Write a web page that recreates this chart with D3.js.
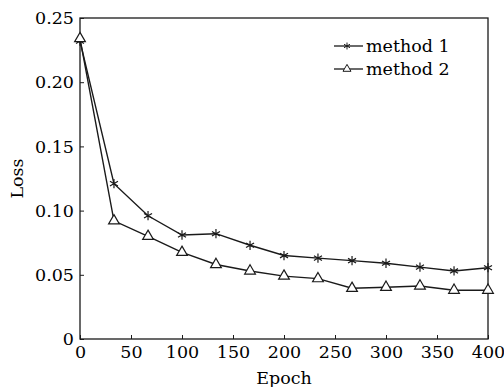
<!DOCTYPE html>
<html lang="en">
<head>
  <meta charset="UTF-8" />
  <title>Loss vs Epoch</title>
  <script src="https://d3js.org/d3.v7.min.js"></script>
  <style>
    body {
      margin: 0;
      background-color: #ffffff;
    }

    .chart-area text {
      font-family: 'DejaVu Serif', serif;
      fill: #000;
    }

    .line-path {
      fill: none;
      stroke: #1a1a1a;
      stroke-width: 1.4;
    }
  </style>
</head>
<body>
  <div id="loss-chart"></div>

  <script>
    const epochs = [0, 33.3, 66.7, 100, 133.3, 166.7, 200, 233.3, 266.7, 300, 333.3, 366.7, 400];
    const method1 = [0.232, 0.121, 0.096, 0.081, 0.082, 0.073, 0.065, 0.063, 0.061, 0.059, 0.056, 0.053, 0.0555];
    const method2 = [0.234, 0.092, 0.080, 0.0675, 0.058, 0.053, 0.049, 0.047, 0.0395, 0.0403, 0.0413, 0.038, 0.038];
    const xTicks = [0, 50, 100, 150, 200, 250, 300, 350, 400];
    const yTicks = [0, 0.05, 0.10, 0.15, 0.20, 0.25];
    const seriesNames = ["method 1", "method 2"];

    const fontSize = 17.5;

    function renderChart() {
      const margin = { top: 18, right: 16, bottom: 48, left: 80 };
      const svgWidth = 504;
      const svgHeight = 387;
      const width = svgWidth - margin.left - margin.right;
      const height = svgHeight - margin.top - margin.bottom;

      const svg = d3.select("#loss-chart")
        .append("svg")
        .attr("width", svgWidth)
        .attr("height", svgHeight)
        .append("g")
        .attr("transform", `translate(${margin.left},${margin.top})`)
        .attr("class", "chart-area");

      const x = d3.scaleLinear().domain([0, 400]).range([0, width]);
      const y = d3.scaleLinear().domain([0, 0.25]).range([height, 0]);

      // frame
      svg.append("rect")
        .attr("width", width)
        .attr("height", height)
        .attr("fill", "none")
        .attr("stroke", "#1a1a1a")
        .attr("stroke-width", 1.3);

      const xAxis = svg.append("g")
        .attr("transform", `translate(0,${height})`)
        .call(d3.axisBottom(x).tickValues(xTicks).tickFormat(d3.format("d"))
          .tickSizeInner(-4).tickSizeOuter(0).tickPadding(7));

      const yAxis = svg.append("g")
        .call(d3.axisLeft(y).tickValues(yTicks)
          .tickFormat(d => d === 0 ? "0" : d3.format(".2f")(d))
          .tickSizeInner(-4).tickSizeOuter(0).tickPadding(6));

      [xAxis, yAxis].forEach(ax => {
        ax.select(".domain").remove();
        ax.selectAll("line").attr("stroke", "#1a1a1a");
        ax.selectAll("text").attr("font-size", fontSize).attr("font-family", "DejaVu Serif, serif").attr("fill", "#000");
      });

      svg.append("text")
        .attr("x", width / 2)
        .attr("y", height + 45)
        .attr("text-anchor", "middle")
        .attr("font-size", fontSize)
        .text("Epoch");

      svg.append("text")
        .attr("transform", `translate(-57,${height / 2}) rotate(-90)`)
        .attr("text-anchor", "middle")
        .attr("font-size", fontSize)
        .text("Loss");

      const series = [
        { name: seriesNames[0], values: method1, symbol: d3.symbolAsterisk, size: 60, fill: "none" },
        { name: seriesNames[1], values: method2, symbol: d3.symbolTriangle, size: 50, fill: "#fff" }
      ];

      const line = d3.line()
        .x((d, i) => x(epochs[i]))
        .y(d => y(d));

      series.forEach(s => {
        svg.append("path")
          .datum(s.values)
          .attr("class", "line-path")
          .attr("d", line);

        svg.selectAll(null)
          .data(s.values)
          .enter()
          .append("path")
          .attr("transform", (d, i) => `translate(${x(epochs[i])},${y(d)})`)
          .attr("d", d3.symbol().type(s.symbol).size(s.size))
          .attr("fill", s.fill)
          .attr("stroke", "#1a1a1a")
          .attr("stroke-width", 1.2);
      });

      createLegend(svg, series);
    }

    function createLegend(svg, series) {
      const legend = svg.selectAll(".legend-item")
        .data(series)
        .enter()
        .append("g")
        .attr("class", "legend-item")
        .attr("transform", (d, i) => `translate(254, ${28 + i * 23})`);

      legend.append("line")
        .attr("x1", 0)
        .attr("x2", 29)
        .attr("stroke", "#1a1a1a")
        .attr("stroke-width", 1.3);

      legend.append("path")
        .attr("transform", "translate(13,0)")
        .attr("d", d => d3.symbol().type(d.symbol).size(d.size * 0.55)())
        .attr("fill", d => d.fill)
        .attr("stroke", "#1a1a1a")
        .attr("stroke-width", 1);

      legend.append("text")
        .attr("x", 32)
        .attr("dy", "0.32em")
        .attr("font-size", fontSize)
        .text(d => d.name);
    }

    renderChart();
  </script>
</body>
</html>
